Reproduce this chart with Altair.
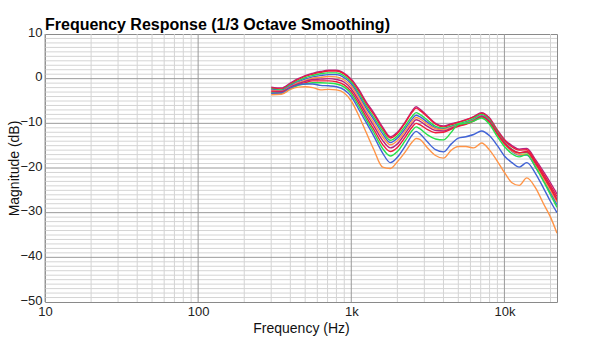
import altair as alt
import pandas as pd

freq_hz = [300, 350, 400, 450, 500, 560, 630, 710, 800, 900, 1000, 1120, 1250, 1400,
           1600, 1800, 2000, 2240, 2500, 2650, 2800, 3150, 3550, 4000, 4500, 5000, 5600,
           6300, 7100, 8000, 9000, 10000, 11200, 12500, 14000, 16000, 18000, 20000, 22050]

trace_1 = [-1.9, -2.1, -1.0, 0.0, 0.7, 1.2, 1.6, 1.9, 1.9, 1.2, -0.1, -2.4, -5.2, -7.6, -10.8, -13.0, -12.0, -9.8, -7.2, -6.3, -6.8, -8.4, -10.0, -10.6, -10.1, -9.7, -9.2, -8.5, -7.6, -8.8, -11.5, -13.6, -15.0, -15.8, -15.6, -18.2, -20.8, -23.3, -25.8]
trace_2 = [-2.1, -2.3, -1.2, -0.2, 0.5, 1.0, 1.4, 1.7, 1.7, 1.0, -0.4, -2.8, -5.6, -8.0, -11.2, -13.3, -12.3, -10.0, -7.5, -6.6, -7.1, -8.6, -10.2, -10.8, -10.3, -9.8, -9.3, -8.6, -7.8, -9.0, -11.7, -13.8, -15.3, -16.0, -15.9, -18.6, -21.3, -23.9, -26.4]
trace_3 = [-2.3, -2.5, -1.4, -0.5, 0.2, 0.7, 1.1, 1.3, 1.3, 0.6, -0.8, -3.3, -6.1, -8.6, -11.7, -13.8, -12.8, -10.7, -8.4, -7.6, -8.0, -9.3, -10.7, -11.1, -10.6, -10.1, -9.6, -8.9, -8.0, -9.3, -12.0, -14.2, -15.8, -16.6, -16.6, -19.3, -22.0, -24.7, -27.4]
trace_4 = [-2.4, -2.7, -1.6, -0.7, -0.1, 0.4, 0.7, 0.9, 0.9, 0.2, -1.2, -3.8, -6.6, -9.1, -12.3, -14.3, -13.3, -11.3, -9.0, -8.2, -8.5, -9.8, -11.0, -11.3, -10.8, -10.3, -9.9, -9.2, -8.3, -9.6, -12.4, -14.6, -16.3, -17.1, -17.1, -19.9, -22.7, -25.5, -28.2]
trace_5 = [-2.6, -2.8, -1.8, -0.9, -0.4, 0.1, 0.3, 0.5, 0.4, -0.3, -1.7, -4.3, -7.2, -9.8, -13.0, -14.8, -13.9, -11.8, -9.5, -8.7, -9.0, -10.2, -11.2, -11.4, -10.9, -10.4, -10.0, -9.3, -8.4, -9.7, -12.4, -14.6, -16.2, -17.0, -16.9, -19.6, -22.4, -25.0, -27.6]
trace_6 = [-2.8, -2.9, -1.9, -1.1, -0.6, -0.2, -0.1, 0.0, -0.2, -0.8, -2.3, -4.9, -7.8, -10.5, -13.8, -15.5, -14.6, -12.4, -10.1, -9.2, -9.5, -10.7, -11.6, -11.7, -11.1, -10.6, -10.1, -9.4, -8.4, -9.6, -12.2, -14.3, -15.9, -16.6, -16.4, -19.0, -21.8, -24.4, -27.0]
trace_7 = [-3.0, -3.1, -2.1, -1.3, -0.9, -0.5, -0.5, -0.5, -0.7, -1.4, -2.9, -5.6, -8.5, -11.3, -14.7, -16.3, -15.4, -13.2, -10.8, -10.0, -10.3, -11.4, -12.1, -12.0, -11.3, -10.7, -10.2, -9.5, -8.6, -9.8, -12.4, -14.5, -16.0, -16.6, -16.3, -18.9, -21.8, -24.5, -27.2]
trace_8 = [-3.2, -3.3, -2.3, -1.5, -1.2, -0.9, -0.9, -1.0, -1.2, -1.9, -3.4, -6.2, -9.1, -12.0, -15.6, -17.3, -16.3, -14.0, -11.6, -10.8, -11.2, -12.6, -13.5, -13.7, -12.0, -10.2, -10.0, -9.5, -8.8, -10.2, -13.0, -15.2, -16.8, -17.5, -17.0, -19.8, -23.0, -26.0, -28.8]
trace_9 = [-3.3, -3.2, -2.1, -1.4, -1.2, -1.2, -1.5, -1.6, -1.8, -2.5, -4.0, -6.9, -9.8, -12.8, -16.6, -18.8, -17.6, -15.2, -12.6, -11.8, -12.3, -14.2, -15.9, -16.4, -14.6, -13.3, -13.0, -12.5, -11.7, -12.8, -15.0, -17.3, -18.8, -19.8, -18.8, -21.3, -24.5, -27.5, -30.0]
trace_10 = [-3.6, -3.5, -2.4, -1.9, -1.8, -2.0, -2.5, -2.4, -2.5, -3.2, -5.0, -8.3, -12.0, -15.8, -19.8, -20.1, -18.6, -16.5, -14.2, -13.4, -13.6, -15.5, -17.2, -17.8, -16.0, -15.2, -15.2, -15.5, -14.4, -16.0, -18.5, -21.0, -23.3, -23.9, -22.2, -24.5, -28.0, -31.0, -34.6]

trace_names = ["t1", "t2", "t3", "t4", "t5", "t6", "t7", "t8", "t9", "t10"]
trace_colors = ["#b8237f", "#ee1c3a", "#27e04a", "#4163d6", "#ff9447",
                "#b8237f", "#ee1c3a", "#27e04a", "#4163d6", "#ff9447"]
traces = [trace_1, trace_2, trace_3, trace_4, trace_5,
          trace_6, trace_7, trace_8, trace_9, trace_10]

x_major = [10, 100, 1000, 10000]
x_minor = [20, 30, 40, 50, 60, 70, 80, 90, 200, 300, 400, 500, 600, 700, 800, 900,
           2000, 3000, 4000, 5000, 6000, 7000, 8000, 9000, 20000]
y_major = [-40, -30, -20, -10, 0]
y_ticks = [-50, -40, -30, -20, -10, 0, 10]
y_minor = [v for v in range(-49, 10) if v % 10 != 0]

rows = []
for name, vals in zip(trace_names, traces):
    for f, v in zip(freq_hz, vals):
        rows.append({"freq": f, "db": v, "trace": name})
df = pd.DataFrame(rows)

FONT = "Liberation Sans"

xscale = alt.Scale(type="log", domain=[10, 22050], nice=False)
yscale = alt.Scale(domain=[-50, 10], nice=False)

xaxis = alt.Axis(values=x_major, grid=False, ticks=False, domain=False, labelFlush=False,
                 labelExpr="datum.value >= 1000 ? format(datum.value / 1000, 'd') + 'k' : format(datum.value, 'd')",
                 labelFont=FONT, labelFontSize=13, labelColor="#222",
                 labelPadding=3, titleFont=FONT, titleFontSize=14,
                 titleFontWeight="normal", titleColor="#111", titlePadding=3)
yaxis = alt.Axis(values=y_ticks, grid=False, ticks=False, domain=False, labelFlush=False,
                 labelFont=FONT, labelFontSize=13, labelColor="#222", labelOffset=-2,
                 labelPadding=3, titleFont=FONT, titleFontSize=14,
                 titleFontWeight="normal", titleColor="#111", titlePadding=-2)
XT = "Frequency (Hz)"
YT = "Magnitude (dB)"

minor_x = alt.Chart(pd.DataFrame({"freq": x_minor})).mark_rule(
    color="#d4d4d4", strokeWidth=1).encode(x=alt.X("freq:Q", scale=xscale, axis=xaxis, title=XT))
minor_y = alt.Chart(pd.DataFrame({"db": y_minor})).mark_rule(
    color="#d4d4d4", strokeWidth=1).encode(y=alt.Y("db:Q", scale=yscale, axis=yaxis, title=YT))
major_x = alt.Chart(pd.DataFrame({"freq": x_major})).mark_rule(
    color="#9a9a9a", strokeWidth=1).encode(x=alt.X("freq:Q", scale=xscale, axis=xaxis, title=XT))
major_y = alt.Chart(pd.DataFrame({"db": y_major})).mark_rule(
    color="#9a9a9a", strokeWidth=1).encode(y=alt.Y("db:Q", scale=yscale, axis=yaxis, title=YT))

lines = alt.Chart(df).mark_line(strokeWidth=1.4, interpolate="monotone", clip=True).encode(
    x=alt.X("freq:Q", scale=xscale, axis=xaxis, title=XT),
    y=alt.Y("db:Q", scale=yscale, axis=yaxis, title=YT),
    color=alt.Color("trace:N", scale=alt.Scale(domain=trace_names, range=trace_colors),
                    legend=None),
)

chart = alt.layer(minor_x, minor_y, major_x, major_y, lines).properties(
    width=512, height=268,
    title=alt.TitleParams("Frequency Response (1/3 Octave Smoothing)", anchor="start",
                          frame="group", font=FONT, fontSize=16, fontWeight="bold",
                          color="#000", offset=-7),
    autosize=alt.AutoSizeParams(type="none"),
    padding={"left": 45, "top": 34, "right": 32, "bottom": 40},
).configure_view(stroke="#8a8a8a", strokeWidth=1)

chart.save("out.html", embed_options={"renderer": "svg", "actions": False})
